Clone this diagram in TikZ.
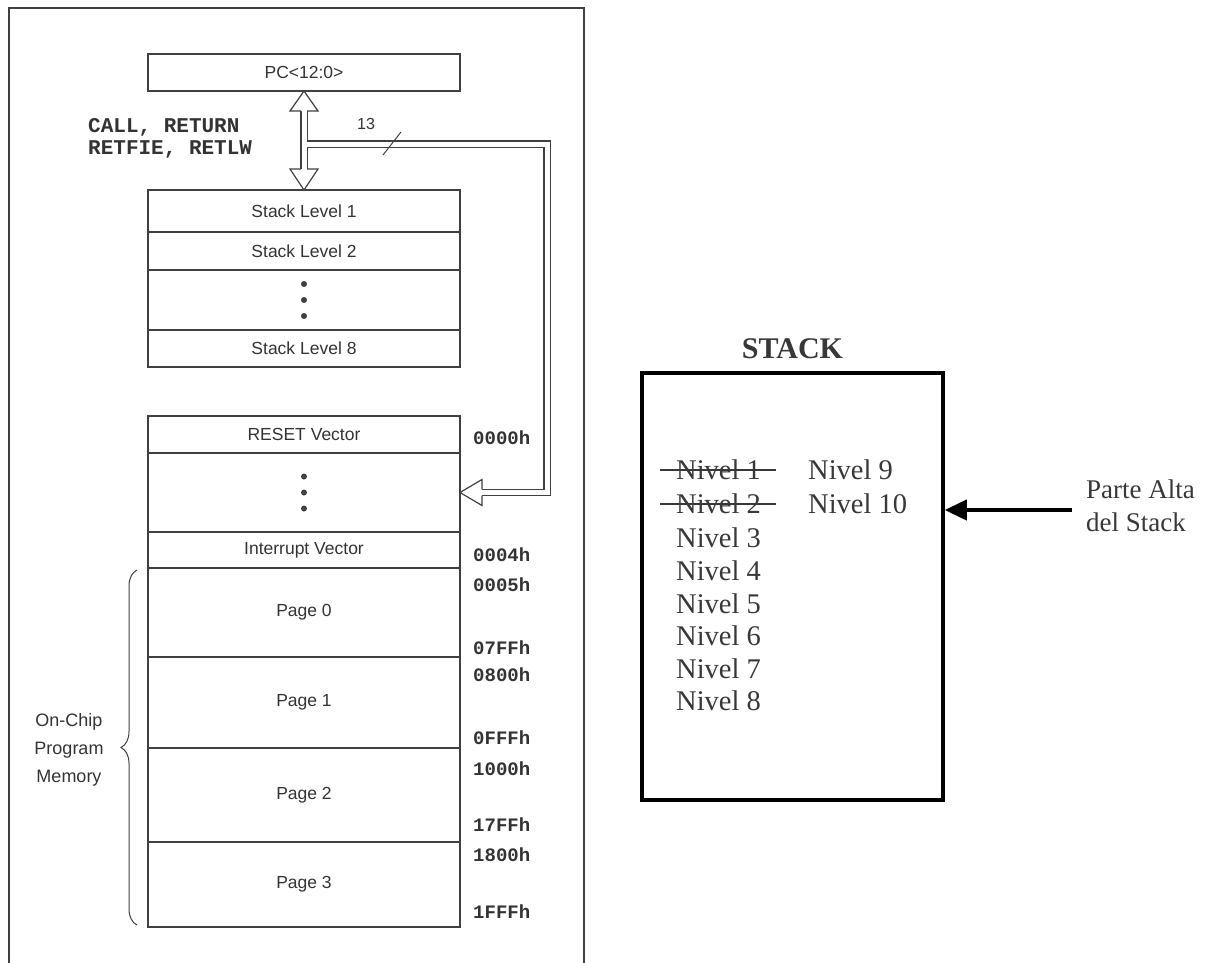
\documentclass[tikz,border=0pt]{standalone}
\usepackage{fontspec}
\setmainfont{Liberation Serif}
\setsansfont{Liberation Sans}
\setmonofont{Liberation Mono}
\usetikzlibrary{positioning,arrows.meta,decorations.pathreplacing}

\definecolor{linegray}{gray}{0.25}
\definecolor{textgray}{gray}{0.2}
\definecolor{nivelgray}{gray}{0.22}

\begin{document}
\begin{tikzpicture}[x=1pt,y=-1pt,
  box/.style={draw=linegray,line width=1.4pt,minimum width=312,inner sep=0pt,outer sep=0pt,
    font=\sffamily\fontsize{17.5}{17.5}\selectfont,text=textgray},
  addr/.style={anchor=west,inner sep=0pt,font=\ttfamily\bfseries\fontsize{19}{19}\selectfont,text=textgray},
  nivel/.style={anchor=west,inner sep=0pt,font=\fontsize{28.5}{28.5}\selectfont,text=nivelgray},
  bus/.style={draw=linegray,line width=1.2pt,double=white,double distance=5pt},
  busend/.style={draw=linegray,line width=1.2pt,fill=white,line join=miter}]

\useasboundingbox (0,0) rectangle (1210,962);
% frame round the memory map
\draw[linegray,line width=1.5pt] (9,966)--(9,8)--(584,8)--(584,966);

\node[box,minimum height=37] (pc) at (304,72.5) {PC<12:0>};

% stack levels
\node[box,minimum height=42,anchor=north] (sl1) at (304,190) {Stack Level 1};
\node[box,minimum height=38,below=0pt of sl1] (sl2) {Stack Level 2};
\node[box,minimum height=60,below=0pt of sl2] (sdots) {};
\node[box,minimum height=37,below=0pt of sdots] (sl8) {Stack Level 8};

% program memory
\node[box,minimum height=37,anchor=north] (reset) at (304,416) {RESET Vector};
\node[box,minimum height=79,below=0pt of reset] (vdots) {};
\node[box,minimum height=36,below=0pt of vdots] (intv) {Interrupt Vector};
\node[box,minimum height=89,below=0pt of intv] (p0) {Page 0};
\node[box,minimum height=91,below=0pt of p0] (p1) {Page 1};
\node[box,minimum height=94,below=0pt of p1] (p2) {Page 2};
\node[box,minimum height=85,below=0pt of p2] (p3) {Page 3};

\foreach \d in {-16,0,16}
{
  \fill[linegray] ([yshift=\d pt]sdots.center) circle (3pt);
  \fill[linegray] ([yshift=\d pt]vdots.center) circle (3pt);
}

\foreach \a/\y in {0000h/438,0004h/555,0005h/585,07FFh/648,0800h/675,0FFFh/738,1000h/769,17FFh/825,1800h/855,1FFFh/912}
  \node[addr] (a\a) at (473,\y) {\a};

% bus between PC, stack and memory
\coordinate (uptip) at (pc.south);
\coordinate (dntip) at (sl1.north);
\coordinate (memtip) at (vdots.east);
\coordinate (tee) at (304,144);
\draw[bus] (304,111) -- (304,169);
\draw[bus] (tee) -| (547,492.5) -- ([xshift=22pt]memtip);
\draw[white,line width=5pt] (304,132) -- (304,156);
\draw[busend] (uptip) ++(-3.1,20) -- ++(-10.9,0) -- (uptip) -- ++(14,20) -- ++(-10.9,0);
\draw[busend] (dntip) ++(-3.1,-21) -- ++(-10.9,0) -- (dntip) -- ++(14,-21) -- ++(-10.9,0);
\draw[busend] (memtip) ++(22,-3.1) -- ++(0,-9.9) -- (memtip) -- ++(22,13) -- ++(0,-9.9);
\draw[linegray,line width=1pt] (383,155) -- (401,132);
\node[inner sep=0pt,font=\sffamily\fontsize{16}{16}\selectfont,text=textgray] (width) at (366,124) {13};

\node[anchor=west,align=left,inner sep=0pt,font=\ttfamily\bfseries\fontsize{21}{22}\selectfont,text=textgray] (ops) at (88,138) {CALL, RETURN\\RETFIE, RETLW};

\draw[linegray,line width=1pt,decorate,decoration={brace,amplitude=16pt}]
  ([xshift=-11pt,yshift=2pt]p3.south west) -- ([xshift=-11pt,yshift=-2pt]p0.north west);
\node[align=center,inner sep=0pt,font=\sffamily\fontsize{18}{28}\selectfont,text=textgray] (onchip) at (69,750) {On-Chip\\Program\\Memory};

% the stack itself
\node[draw=black,line width=3.5pt,minimum width=301,minimum height=427,inner sep=0pt] (stk) at (792.5,586.5) {};
\node[inner sep=0pt,font=\bfseries\fontsize{30}{30}\selectfont,text=nivelgray,above=12pt of stk] (stktitle) {STACK};

\foreach \n/\y in {1/470,2/504,3/538,4/571,5/604,6/636,7/669,8/701}
  \node[nivel] (n\n) at (676,\y) {Nivel \n};
\node[nivel] (n9) at (808,470) {Nivel 9};
\node[nivel] (n10) at (808,504) {Nivel 10};
\foreach \n in {1,2}
  \draw[nivelgray,line width=1.2pt] ([xshift=-16pt]n\n.west) -- ([xshift=15pt]n\n.east);

\node[anchor=west,align=left,inner sep=0pt,font=\fontsize{27}{33}\selectfont,text=nivelgray] (top) at (1086,506) {Parte Alta\\del Stack};
\coordinate (aim) at ([xshift=-14pt,yshift=-4pt]top.west);
\draw[-{Triangle[length=22pt,width=20pt]},line width=4pt] (aim) -- (aim -| stk.east);
\end{tikzpicture}
\end{document}
